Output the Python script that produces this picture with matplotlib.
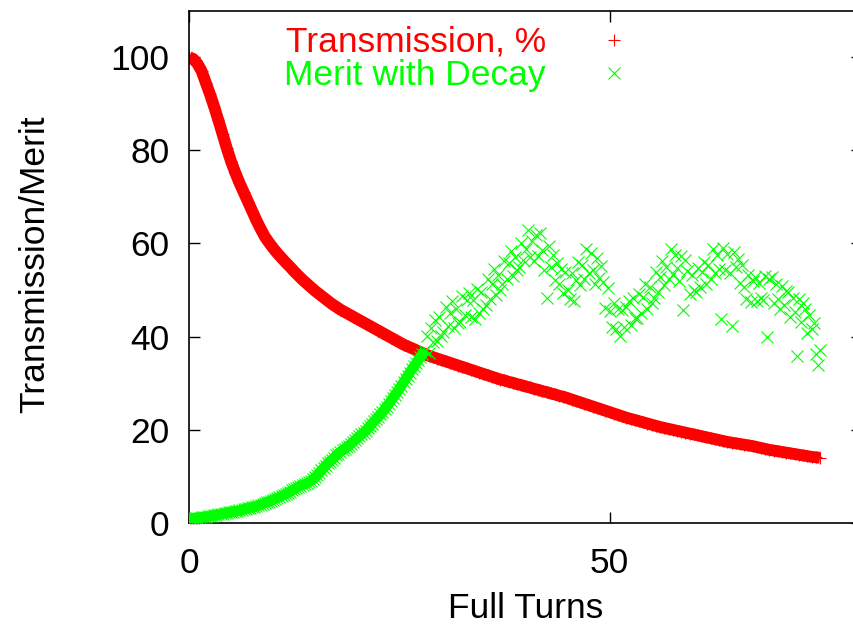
import numpy as np
import matplotlib
matplotlib.use("Agg")
import matplotlib.pyplot as plt
from matplotlib.lines import Line2D

plt.rcParams['font.family'] = ['Liberation Sans', 'DejaVu Sans']

# transmission, sampled every half turn
turns_t = np.arange(0, 75.01, 0.5)
transmission = [
    100.0, 99.6, 98.6, 97.0, 94.5, 92.0, 89.3, 86.4, 83.4, 80.4,
    77.6, 75.2, 73.0, 71.0, 69.0, 67.0, 65.0, 63.2, 61.5, 60.2,
    59.0, 57.9, 56.9, 55.9, 55.0, 54.0, 53.1, 52.2, 51.4, 50.6,
    49.8, 49.1, 48.4, 47.7, 47.0, 46.4, 45.8, 45.3, 44.8, 44.3,
    43.8, 43.3, 42.8, 42.3, 41.8, 41.3, 40.8, 40.3, 39.8, 39.3,
    38.8, 38.3, 37.9, 37.5, 37.1, 36.7, 36.3, 35.9, 35.6, 35.3,
    35.0, 34.7, 34.4, 34.1, 33.8, 33.5, 33.2, 32.9, 32.6, 32.3,
    32.0, 31.7, 31.4, 31.1, 30.8, 30.6, 30.3, 30.1, 29.8, 29.6,
    29.3, 29.1, 28.8, 28.6, 28.3, 28.1, 27.8, 27.6, 27.3, 27.1,
    26.8, 26.5, 26.2, 25.9, 25.6, 25.3, 25.0, 24.7, 24.4, 24.1,
    23.8, 23.5, 23.2, 22.9, 22.6, 22.35, 22.1, 21.85, 21.6, 21.35,
    21.1, 20.85, 20.6, 20.4, 20.2, 20.0, 19.8, 19.6, 19.4, 19.2,
    19.0, 18.8, 18.6, 18.4, 18.2, 18.0, 17.8, 17.6, 17.4, 17.25,
    17.1, 16.95, 16.8, 16.65, 16.5, 16.3, 16.1, 15.9, 15.7, 15.55,
    15.4, 15.25, 15.1, 14.95, 14.8, 14.65, 14.5, 14.35, 14.2, 14.1,
    14.0,
]

# merit with decay, sampled every quarter turn
turns_m = np.arange(0, 75.01, 0.25)
merit = [
    # 0 - 28, smooth rise
    1.0, 1.0, 1.0, 1.05, 1.1, 1.1, 1.2, 1.25, 1.3, 1.4, 1.5, 1.6,
    1.7, 1.75, 1.85, 1.9, 2.0, 2.1, 2.2, 2.3, 2.35, 2.45, 2.55, 2.6,
    2.7, 2.8, 2.95, 3.05, 3.2, 3.3, 3.4, 3.5, 3.6, 3.8, 3.95, 4.1,
    4.3, 4.45, 4.6, 4.8, 5.0, 5.2, 5.4, 5.6, 5.8, 6.0, 6.2, 6.5,
    6.7, 7.0, 7.2, 7.5, 7.8, 8.0, 8.2, 8.3, 8.5, 8.8, 9.1, 9.4,
    9.8, 10.3, 10.8, 11.3, 11.8, 12.3, 12.8, 13.2, 13.6, 14.0, 14.5, 14.9,
    15.3, 15.6, 15.9, 16.3, 16.6, 17.0, 17.4, 17.8, 18.2, 18.6, 19.0, 19.4,
    19.8, 20.3, 20.8, 21.3, 21.8, 22.3, 22.8, 23.3, 23.8, 24.4, 25.0, 25.6,
    26.2, 26.9, 27.5, 28.1, 28.8, 29.5, 30.2, 30.9, 31.6, 32.3, 33.0, 33.6,
    34.3, 35.0, 35.6, 36.3, 37.0,
    # 28.25 - 75, noisy
    40.2, 36.4, 41.8, 38.9, 43.6, 39.0, 44.2, 40.1,
    41.0, 46.3, 42.2, 45.1, 47.6, 41.9, 46.0, 43.0,
    43.1, 48.7, 44.6, 47.9, 49.4, 44.2, 47.8, 43.8,
    50.2, 45.1, 49.6, 46.0, 46.8, 52.4, 48.1, 51.3,
    54.6, 49.0, 53.2, 50.1, 51.2, 56.3, 52.4, 55.8,
    58.4, 53.0, 57.1, 54.2, 55.0, 60.1, 56.4, 58.9,
    62.8, 57.1, 60.5, 56.3, 61.9, 57.4, 62.3, 58.6,
    54.2, 48.2, 59.4, 55.0, 57.6, 52.1, 55.9, 51.4,
    54.6, 49.3, 53.8, 50.1, 48.0, 53.6, 47.6, 52.2,
    56.1, 51.0, 55.4, 52.3, 58.8, 53.6, 57.9, 54.4,
    51.3, 56.8, 52.6, 55.2, 51.7, 46.2, 50.4, 45.5,
    42.1, 47.3, 41.6, 46.0, 40.2, 45.8, 42.0, 46.4,
    47.6, 42.4, 48.3, 44.1, 43.9, 49.1, 45.0, 48.6,
    51.4, 46.0, 50.7, 47.2, 48.3, 53.8, 49.6, 52.9,
    56.2, 51.1, 55.0, 52.4, 58.9, 53.4, 57.6, 54.7,
    52.0, 57.3, 45.8, 56.4, 54.1, 49.2, 53.3, 50.0,
    49.6, 54.8, 50.7, 53.9, 56.0, 51.2, 55.4, 52.3,
    58.9, 53.7, 57.5, 54.6, 43.7, 59.0, 54.2, 57.8,
    53.6, 42.2, 58.1, 54.9, 56.6, 51.5, 55.3, 50.6,
    48.0, 53.2, 47.4, 51.9, 52.8, 47.6, 51.6, 48.4,
    47.9, 53.1, 40.0, 52.4, 52.9, 47.3, 51.4, 48.0,
    45.9, 50.8, 46.7, 49.9, 49.6, 44.3, 48.4, 45.2,
    35.8, 48.0, 43.1, 47.2, 45.9, 40.8, 44.7, 41.6,
    43.0, 36.2, 34.0, 37.1,
]
merit = np.array(merit)

RED = '#ff0000'
GREEN = '#00ff00'
FS = 25.5

fig = plt.figure(figsize=(8.54, 6.26), dpi=100)
ax = fig.add_axes([189 / 854, 103 / 626, 673 / 854, 512.5 / 626])

# red band: thick line under the + markers
ax.plot(turns_t, transmission, color=RED, lw=8.5, solid_capstyle='butt', zorder=2)
ax.plot(turns_t, transmission, ls='none', marker='+', ms=8.5, mew=0.8,
        color=RED, zorder=2)

smooth = turns_m <= 28
ax.plot(turns_m[smooth], merit[smooth], color=GREEN, lw=7.5,
        solid_capstyle='butt', zorder=3)
ax.plot(turns_m, merit, ls='none', marker='x', ms=8.5, mew=0.8,
        color=GREEN, zorder=3)

ax.set_xlim(0, 80)
ax.set_ylim(0, 110)
ax.set_xticks([0, 50])
ax.set_yticks([0, 20, 40, 60, 80, 100])
ax.tick_params(direction='in', length=8, width=1, top=True, right=True,
               labelsize=FS, colors='black')
ax.tick_params(axis='y', pad=14)
ax.tick_params(axis='x', pad=17)
for sp in ax.spines.values():
    sp.set_linewidth(1.2)

fig.text(35 / 854, 1 - 264 / 626, 'Transmission/Merit', rotation=90,
         ha='center', va='center', fontsize=FS)
fig.text(526 / 854, 1 - 608 / 626, 'Full Turns', ha='center', va='center',
         fontsize=FS)

handles = [
    Line2D([], [], ls='none', marker='+', ms=8.5, mew=0.8, color=RED),
    Line2D([], [], ls='none', marker='x', ms=8.5, mew=0.8, color=GREEN),
]
ax.legend(handles, ['Transmission, %', 'Merit with Decay'],
          loc='upper right', bbox_to_anchor=(648 / 854, 1 - 26 / 626),
          bbox_transform=fig.transFigure, frameon=False, markerfirst=False,
          labelcolor='linecolor', fontsize=FS, handlelength=1.9,
          handletextpad=0.99, borderpad=0, borderaxespad=0, labelspacing=0.0)

fig.savefig('out.png', dpi=100)
